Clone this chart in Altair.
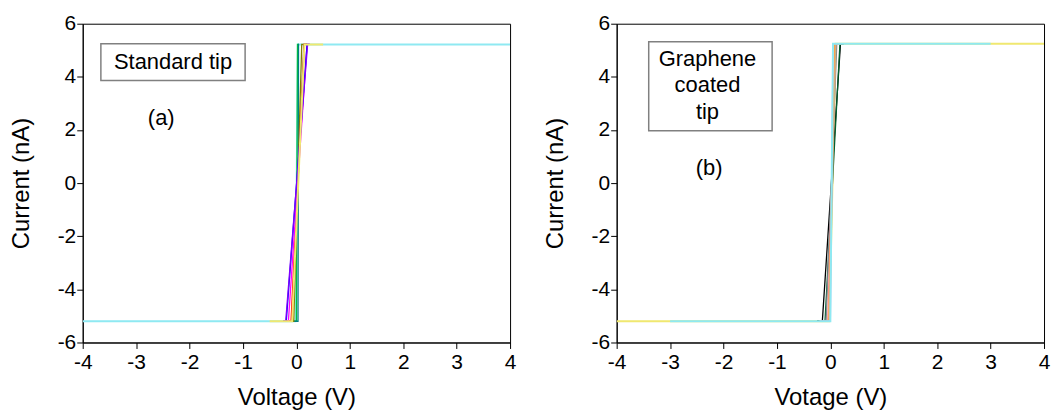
import altair as alt
import pandas as pd

FONT = "Liberation Sans"

# saturation levels (nA)
A_SAT = [-5.2, 5.22]
B_SAT = [-5.2, 5.25]

CYAN = "#8fe9f2"
YELLOW = "#f0e870"

# panel (a): one I-V sweep per series: start V, V where it leaves the low rail,
# V where it reaches the high rail, end V
A_COLORS = [CYAN, "#00c040", "#008080", "#808000", "#800000", "#ff0000",
            "#ff00ff", "#0000ff", "#8000ff", YELLOW]
A_WIDTHS = [2, 1.3, 1.3, 1.3, 1.3, 1.3, 1.3, 1.3, 1.3, 2]
A_V_START = [-4.0, -0.05, -0.05, -0.2, -0.2, -0.2, -0.25, -0.25, -0.25, -0.5]
A_V_LOW = [-0.02, 0.0, 0.03, -0.05, -0.08, -0.1, -0.15, -0.19, -0.2, -0.08]
A_V_HIGH = [0.03, 0.02, 0.04, 0.1, 0.14, 0.15, 0.2, 0.2, 0.21, 0.15]
A_V_END = [4.0, 0.05, 0.05, 0.2, 0.2, 0.2, 0.25, 0.25, 0.25, 0.5]

# panel (b)
B_COLORS = [YELLOW, "#000000", "#006030", "#808890", "#ff9090", "#ffa040",
            "#d0b080", "#c0a0ff", CYAN]
B_WIDTHS = [2, 1.3, 1.3, 1.3, 1.3, 1.3, 1.3, 1.3, 2]
B_V_START = [-4.0, -0.25, -0.25, -0.2, -0.2, -0.2, -0.2, -0.2, -3.0]
B_V_LOW = [-0.02, -0.15, -0.1, -0.08, -0.05, -0.03, -0.02, 0.0, 0.0]
B_V_HIGH = [0.1, 0.19, 0.18, 0.12, 0.1, 0.08, 0.1, 0.05, 0.05]
B_V_END = [4.0, 0.25, 0.25, 0.2, 0.2, 0.2, 0.2, 0.2, 3.0]

X_TICKS = [-4, -3.5, -3, -2.5, -2, -1.5, -1, -0.5, 0, 0.5, 1, 1.5, 2, 2.5, 3, 3.5, 4]
Y_TICKS = [-6, -5, -4, -3, -2, -1, 0, 1, 2, 3, 4, 5, 6]

# annotation boxes (data coordinates)
A_BOX = {"x": -3.66, "x2": -0.96, "y": 3.86, "y2": 5.25}
A_TEXT = [("Standard tip", -2.31, 4.55), ("(a)", -2.53, 2.44)]
B_BOX = {"x": -3.40, "x2": -1.09, "y": 1.97, "y2": 5.32}
B_TEXT = [("Graphene", -2.30, 4.68), ("coated", -2.30, 3.71), ("tip", -2.30, 2.69), ("(b)", -2.27, 0.58)]


def build(colors, widths, vs, vl, vh, ve, sat):
    rows = []
    for i, col in enumerate(colors):
        pts = [(vs[i], sat[0]), (vl[i], sat[0]), (vh[i], sat[1]), (ve[i], sat[1])]
        for k, (v, c) in enumerate(pts):
            rows.append({"series": f"s{i:02d}", "col": col, "w": widths[i], "k": k, "V": v, "I": c})
    return pd.DataFrame(rows)


def panel(df, box, texts, xtitle):
    x = alt.X("V:Q", scale=alt.Scale(domain=[-4, 4], nice=False, zero=False),
              axis=alt.Axis(values=X_TICKS, title=xtitle, grid=False,
                            labelExpr="datum.value % 1 == 0 ? '' + datum.value : ''",
                            labelFlush=False, labelOverlap=False,
                            tickSize={"condition": {"test": "datum.value % 1 != 0", "value": 3}, "value": 6},
                            labelPadding=3, titlePadding=13))
    y = alt.Y("I:Q", scale=alt.Scale(domain=[-6, 6], nice=False, zero=False),
              axis=alt.Axis(values=Y_TICKS, title="Current (nA)", grid=False,
                            labelExpr="datum.value % 2 == 0 ? '' + datum.value : ''",
                            labelFlush=False, labelOverlap=False,
                            tickSize={"condition": {"test": "datum.value % 2 != 0", "value": 3}, "value": 6},
                            labelPadding=1, titlePadding=24))
    lines = alt.Chart(df).mark_line(clip=True).encode(
        x=x, y=y,
        color=alt.Color("col:N", scale=None),
        strokeWidth=alt.StrokeWidth("w:Q", scale=None),
        detail="series:N",
        order=alt.Order("k:Q"),
    )
    bdf = pd.DataFrame([box])
    rect = alt.Chart(bdf).mark_rect(fill="white", stroke="#808080", strokeWidth=1.5).encode(
        x="x:Q", x2="x2:Q", y="y:Q", y2="y2:Q")
    tdf = pd.DataFrame([{"t": t, "x": a, "y": b} for t, a, b in texts])
    txt = alt.Chart(tdf).mark_text(font=FONT, fontSize=22, color="black", baseline="middle",
                                   align="center").encode(x="x:Q", y="y:Q", text="t:N")
    return alt.layer(lines, rect, txt).properties(width=429, height=320)


dfa = build(A_COLORS, A_WIDTHS, A_V_START, A_V_LOW, A_V_HIGH, A_V_END, A_SAT)
dfb = build(B_COLORS, B_WIDTHS, B_V_START, B_V_LOW, B_V_HIGH, B_V_END, B_SAT)

pa = panel(dfa, A_BOX, A_TEXT, "Voltage (V)")
pb = panel(dfb, B_BOX, B_TEXT, "Votage (V)")

chart = alt.hconcat(pa, pb, spacing=25).properties(
    padding={"left": 0, "top": 3, "right": 0, "bottom": 0}
).configure_view(stroke="black", strokeWidth=1).configure_axis(
    domainColor="black", tickColor="black", labelColor="black", titleColor="black",
    labelFont=FONT, titleFont=FONT, labelFontSize=21, titleFontSize=24,
    titleFontWeight="normal", domainWidth=1, tickWidth=1,
)

chart.save("out.html", embed_options={"renderer": "svg", "actions": False})
